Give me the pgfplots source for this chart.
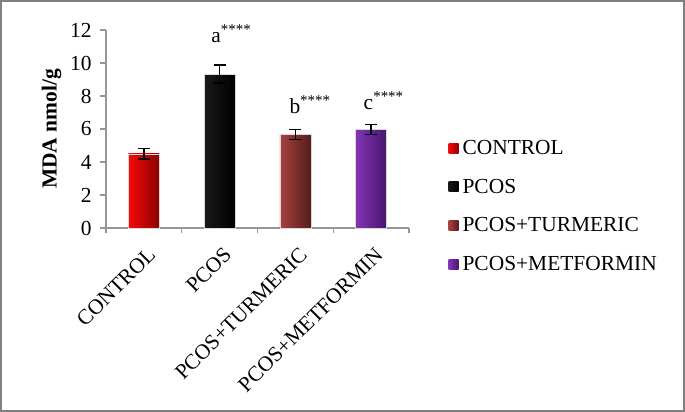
\documentclass[border=0pt]{standalone}
\usepackage{pgfplots}
\pgfplotsset{compat=1.18}
\usepackage{fontspec}
\setmainfont{Liberation Serif}
\definecolor{cRed}{RGB}{245,10,10}
\definecolor{cRedD}{RGB}{140,0,0}
\definecolor{cBlk}{RGB}{25,25,25}
\definecolor{cBlkD}{RGB}{0,0,0}
\definecolor{cBrn}{RGB}{168,66,62}
\definecolor{cBrnD}{RGB}{85,28,28}
\definecolor{cPur}{RGB}{130,52,182}
\definecolor{cPurD}{RGB}{72,22,108}
\definecolor{axgray}{RGB}{150,150,150}
\begin{document}
\begin{tikzpicture}
\useasboundingbox (-106bp,-184bp) rectangle (579bp,228bp);
\draw[line width=2bp, color=axgray!85!black] (-105bp,-183bp) rectangle (578bp,227bp);
\begin{axis}[
  name=ax, at={(0,0)}, anchor=south west,
  scale only axis, width=303bp, height=198bp,
  xmin=-0.5, xmax=3.5, ymin=0, ymax=12,
  axis lines=left, axis line style={-, axgray, line width=1.2bp},
  tick align=outside,
  ytick={0,2,...,12},
  xtick={0,1,2,3},
  xticklabels={CONTROL,PCOS,PCOS+TURMERIC,PCOS+METFORMIN},
  major x tick style={draw=none},
  minor xtick={-0.5,0.5,1.5,2.5,3.5},
  minor x tick style={axgray, line width=1.2bp},
  minor tick length=5bp,
  major tick length=6bp,
  y tick style={axgray, line width=1.2bp},
  /pgf/number format/assume math mode=true,
  tick label style={font=\fontsize{21.5}{25}\selectfont},
  xticklabel style={rotate=45, anchor=north east, xshift=-3bp, yshift=-7bp},
  yticklabel style={xshift=-5bp},
  ylabel={\textbf{MDA nmol/g}},
  ylabel style={at={(axis description cs:-0.18,0.5)}, anchor=center, font=\fontsize{21.5}{25}\selectfont},
  legend style={draw=none, at={(1.13,0.11)}, anchor=west, font=\fontsize{21.5}{25}\selectfont, row sep=19bp, inner sep=0pt,
    nodes={inner xsep=4bp}},
  legend cell align=left,
  legend image code/.code={\path[#1, draw=none] (0bp,-5bp) rectangle (10bp,5bp);},
  clip=false,
]
\addplot[ybar, bar width=31bp, bar shift=0pt, draw=gray!30, left color=cRed, middle color=cRed, right color=cRedD] coordinates {(0,4.5)};
\addlegendentry{CONTROL}
\addplot[ybar, bar width=31bp, bar shift=0pt, draw=gray!30, left color=cBlk, middle color=cBlk, right color=cBlkD] coordinates {(1,9.33)};
\addlegendentry{PCOS}
\addplot[ybar, bar width=31bp, bar shift=0pt, draw=gray!30, left color=cBrn, middle color=cBrn, right color=cBrnD] coordinates {(2,5.68)};
\addlegendentry{PCOS+TURMERIC}
\addplot[ybar, bar width=31bp, bar shift=0pt, draw=gray!30, left color=cPur, middle color=cPur, right color=cPurD] coordinates {(3,5.98)};
\addlegendentry{PCOS+METFORMIN}
\addplot[forget plot, draw=none, mark=none,
  error bars/.cd, y dir=both, y explicit,
  error bar style={draw=black, line width=1.4bp},
  error mark options={rotate=90, draw=black, mark size=6bp, line width=1.4bp}]
  coordinates {(0,4.5) +- (0,0.33) (1,9.33) +- (0,0.55) (2,5.68) +- (0,0.30) (3,5.98) +- (0,0.30)};
\node[anchor=base west, inner sep=0pt, font=\fontsize{21.5}{25}\selectfont] at (axis cs:0.887,11.27) {a\textsuperscript{****}};
\node[anchor=base west, inner sep=0pt, font=\fontsize{21.5}{25}\selectfont] at (axis cs:1.92,6.95) {b\textsuperscript{****}};
\node[anchor=base west, inner sep=0pt, font=\fontsize{21.5}{25}\selectfont] at (axis cs:2.90,7.19) {c\textsuperscript{****}};
\end{axis}
\end{tikzpicture}
\end{document}
